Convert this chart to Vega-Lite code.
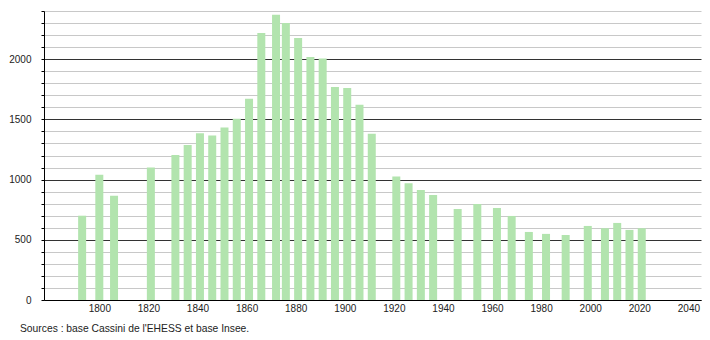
{
  "$schema": "https://vega.github.io/schema/vega-lite/v6.json",
  "width": 657,
  "height": 289,
  "autosize": {"type": "none"},
  "padding": {"left": 44, "top": 11, "right": 9, "bottom": 40},
  "background": "white",
  "title": {
    "text": "Sources : base Cassini de l'EHESS et base Insee.",
    "orient": "bottom",
    "anchor": "start",
    "frame": "group",
    "dx": -24,
    "offset": 11,
    "fontSize": 10.3,
    "fontWeight": "normal",
    "font": "Liberation Sans",
    "color": "#222"
  },
  "data": {
    "values": [
      {"year": 1793, "pop": 700},
      {"year": 1800, "pop": 1040},
      {"year": 1806, "pop": 865},
      {"year": 1821, "pop": 1100},
      {"year": 1831, "pop": 1205},
      {"year": 1836, "pop": 1288},
      {"year": 1841, "pop": 1385},
      {"year": 1846, "pop": 1366},
      {"year": 1851, "pop": 1432},
      {"year": 1856, "pop": 1505},
      {"year": 1861, "pop": 1671},
      {"year": 1866, "pop": 2217},
      {"year": 1872, "pop": 2369},
      {"year": 1876, "pop": 2300},
      {"year": 1881, "pop": 2175},
      {"year": 1886, "pop": 2017},
      {"year": 1891, "pop": 2005},
      {"year": 1896, "pop": 1768},
      {"year": 1901, "pop": 1760},
      {"year": 1906, "pop": 1621},
      {"year": 1911, "pop": 1380},
      {"year": 1921, "pop": 1025},
      {"year": 1926, "pop": 970},
      {"year": 1931, "pop": 914},
      {"year": 1936, "pop": 873},
      {"year": 1946, "pop": 756},
      {"year": 1954, "pop": 798},
      {"year": 1962, "pop": 765},
      {"year": 1968, "pop": 698},
      {"year": 1975, "pop": 565},
      {"year": 1982, "pop": 549},
      {"year": 1990, "pop": 540},
      {"year": 1999, "pop": 615},
      {"year": 2006, "pop": 596},
      {"year": 2011, "pop": 640},
      {"year": 2016, "pop": 582},
      {"year": 2021, "pop": 596}
    ]
  },
  "mark": {"type": "bar", "width": 8, "color": "#b2e4ae"},
  "encoding": {
    "x": {
      "field": "year",
      "type": "quantitative",
      "scale": {"domain": [1779.5, 2043.1], "nice": false, "zero": false},
      "axis": {
        "title": null,
        "values": [1800, 1820, 1840, 1860, 1880, 1900, 1920, 1940, 1960, 1980, 2000, 2020, 2040],
        "format": "d",
        "ticks": false,
        "tickSize": 0,
        "grid": false,
        "domainColor": "#000",
        "domainWidth": 1,
        "labelPadding": 3,
        "labelFontSize": 10,
        "labelFont": "Liberation Sans",
        "labelColor": "#222"
      }
    },
    "y": {
      "field": "pop",
      "type": "quantitative",
      "scale": {"domain": [0, 2400], "nice": false},
      "axis": {
        "title": null,
        "values": [0, 100, 200, 300, 400, 500, 600, 700, 800, 900, 1000, 1100, 1200, 1300, 1400, 1500, 1600, 1700, 1800, 1900, 2000, 2100, 2200, 2300, 2400],
        "labelExpr": "datum.value % 500 === 0 ? datum.value : ''",
        "tickSize": 3,
        "tickColor": "#000",
        "domainColor": "#000",
        "labelPadding": 10,
        "labelFontSize": 10,
        "labelFont": "Liberation Sans",
        "labelColor": "#222",
        "grid": true,
        "gridColor": {"condition": {"test": "datum.value % 500 === 0", "value": "#333"}, "value": "#c8c8c8"},
        "gridWidth": 1
      }
    }
  },
  "config": {"view": {"stroke": null}}
}
